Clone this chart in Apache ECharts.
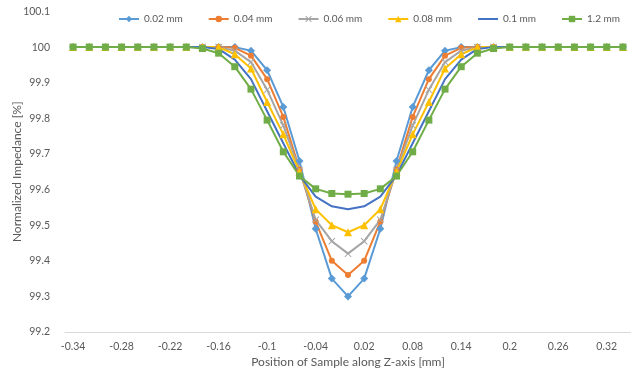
<!DOCTYPE html>
<html><head><meta charset="utf-8">
<script src="https://cdn.jsdelivr.net/npm/echarts@6/dist/echarts.min.js"></script>
<style>html,body{margin:0;padding:0;background:#fff}#c{width:631px;height:383px}</style>
</head><body><div id="c"></div>
<script>
var categories = ['-0.34','-0.32','-0.3','-0.28','-0.26','-0.24','-0.22','-0.2','-0.18','-0.16','-0.14','-0.12','-0.1','-0.08','-0.06','-0.04','-0.02','0','0.02','0.04','0.06','0.08','0.1','0.12','0.14','0.16','0.18','0.2','0.22','0.24','0.26','0.28','0.3','0.32','0.34'];
var s002 = [100,100,100,100,100,100,100,100,100,100,100,99.99,99.935,99.832,99.68,99.49,99.35,99.30,99.35,99.49,99.68,99.832,99.935,99.99,100,100,100,100,100,100,100,100,100,100,100];
var s004 = [100,100,100,100,100,100,100,100,100,100,99.998,99.976,99.91,99.804,99.656,99.51,99.40,99.36,99.40,99.51,99.656,99.804,99.91,99.976,99.998,100,100,100,100,100,100,100,100,100,100];
var s006 = [100,100,100,100,100,100,100,100,100,100,99.99,99.958,99.88,99.78,99.655,99.515,99.455,99.42,99.455,99.515,99.655,99.78,99.88,99.958,99.99,100,100,100,100,100,100,100,100,100,100];
var s008 = [100,100,100,100,100,100,100,100,100,100,99.98,99.94,99.846,99.755,99.65,99.545,99.50,99.48,99.50,99.545,99.65,99.755,99.846,99.94,99.98,100,100,100,100,100,100,100,100,100,100];
var s01 = [100,100,100,100,100,100,100,100,100,99.995,99.965,99.91,99.82,99.73,99.64,99.58,99.553,99.545,99.553,99.58,99.64,99.73,99.82,99.91,99.965,99.995,100,100,100,100,100,100,100,100,100];
var s12 = [100,100,100,100,100,100,100,100,99.996,99.983,99.945,99.882,99.795,99.706,99.638,99.602,99.589,99.587,99.589,99.602,99.638,99.706,99.795,99.882,99.945,99.983,99.996,100,100,100,100,100,100,100,100];
var seriesNames = ['0.02 mm','0.04 mm','0.06 mm','0.08 mm','0.1 mm','1.2 mm'];
var yTicks = {min: 99.2, max: 100.1, interval: 0.1};

var xPath = 'path://M1,0L5,4L9,0L10,1L6,5L10,9L9,10L5,6L1,10L0,9L4,5L0,1Z';
var styles = [
  {color:'#5B9BD5', symbol:'diamond', size:8},
  {color:'#ED7D31', symbol:'circle', size:6},
  {color:'#A5A5A5', symbol:xPath, size:7},
  {color:'#FFC000', symbol:'triangle', size:8},
  {color:'#4472C4', symbol:'none', size:0},
  {color:'#70AD47', symbol:'rect', size:7}
];
var allData = [s002,s004,s006,s008,s01,s12];
var FONT = 'Lato, "Open Sans", sans-serif';
var chart = echarts.init(document.getElementById('c'), null, {renderer:'canvas'});
chart.setOption({
  animation:false,
  backgroundColor:'#fff',
  textStyle:{fontFamily:FONT},
  legend:{
    top:9, right:6, itemWidth:20, itemHeight:8, itemGap:25, width:580,
    textStyle:{fontSize:10, color:'#595959', fontFamily:FONT},
    data: seriesNames.map(function(n, i){
      return styles[i].symbol === 'none' ? {name:n, itemStyle:{opacity:0}} : {name:n};
    })
  },
  grid:{left:65, right:0, top:11.5, bottom:51, containLabel:false, outerBoundsMode:'none'},
  xAxis:{
    type:'category', data:categories, boundaryGap:true,
    axisLine:{lineStyle:{color:'#D9D9D9', width:1}},
    axisTick:{show:false},
    axisLabel:{interval:2, fontSize:10.5, color:'#595959', margin:9, fontFamily:FONT},
    name:'Position of Sample along Z-axis [mm]', nameLocation:'middle', nameGap:24, nameMoveOverlap:false,
    nameTextStyle:{fontSize:12, color:'#595959', fontFamily:FONT}
  },
  yAxis:{
    type:'value', min:yTicks.min, max:yTicks.max, interval:yTicks.interval,
    axisLine:{show:false}, axisTick:{show:false}, splitLine:{show:false},
    axisLabel:{fontSize:10.5, color:'#595959', margin:15, fontFamily:FONT,
      formatter:function(v){return String(parseFloat(v.toFixed(1)));}},
    name:'Normalized Impedance [%]', nameLocation:'middle', nameGap:42, nameMoveOverlap:false,
    nameTextStyle:{fontSize:12, color:'#595959', fontFamily:FONT}
  },
  series: allData.map(function(d,i){
    var st = styles[i];
    return {
      name: seriesNames[i], type:'line', data:d,
      symbol: st.symbol, symbolSize: st.size, showSymbol: st.symbol !== 'none',
      lineStyle:{color:st.color, width:2},
      itemStyle:{color:st.color},
      emphasis:{disabled:true}
    };
  })
});
</script></body></html>
